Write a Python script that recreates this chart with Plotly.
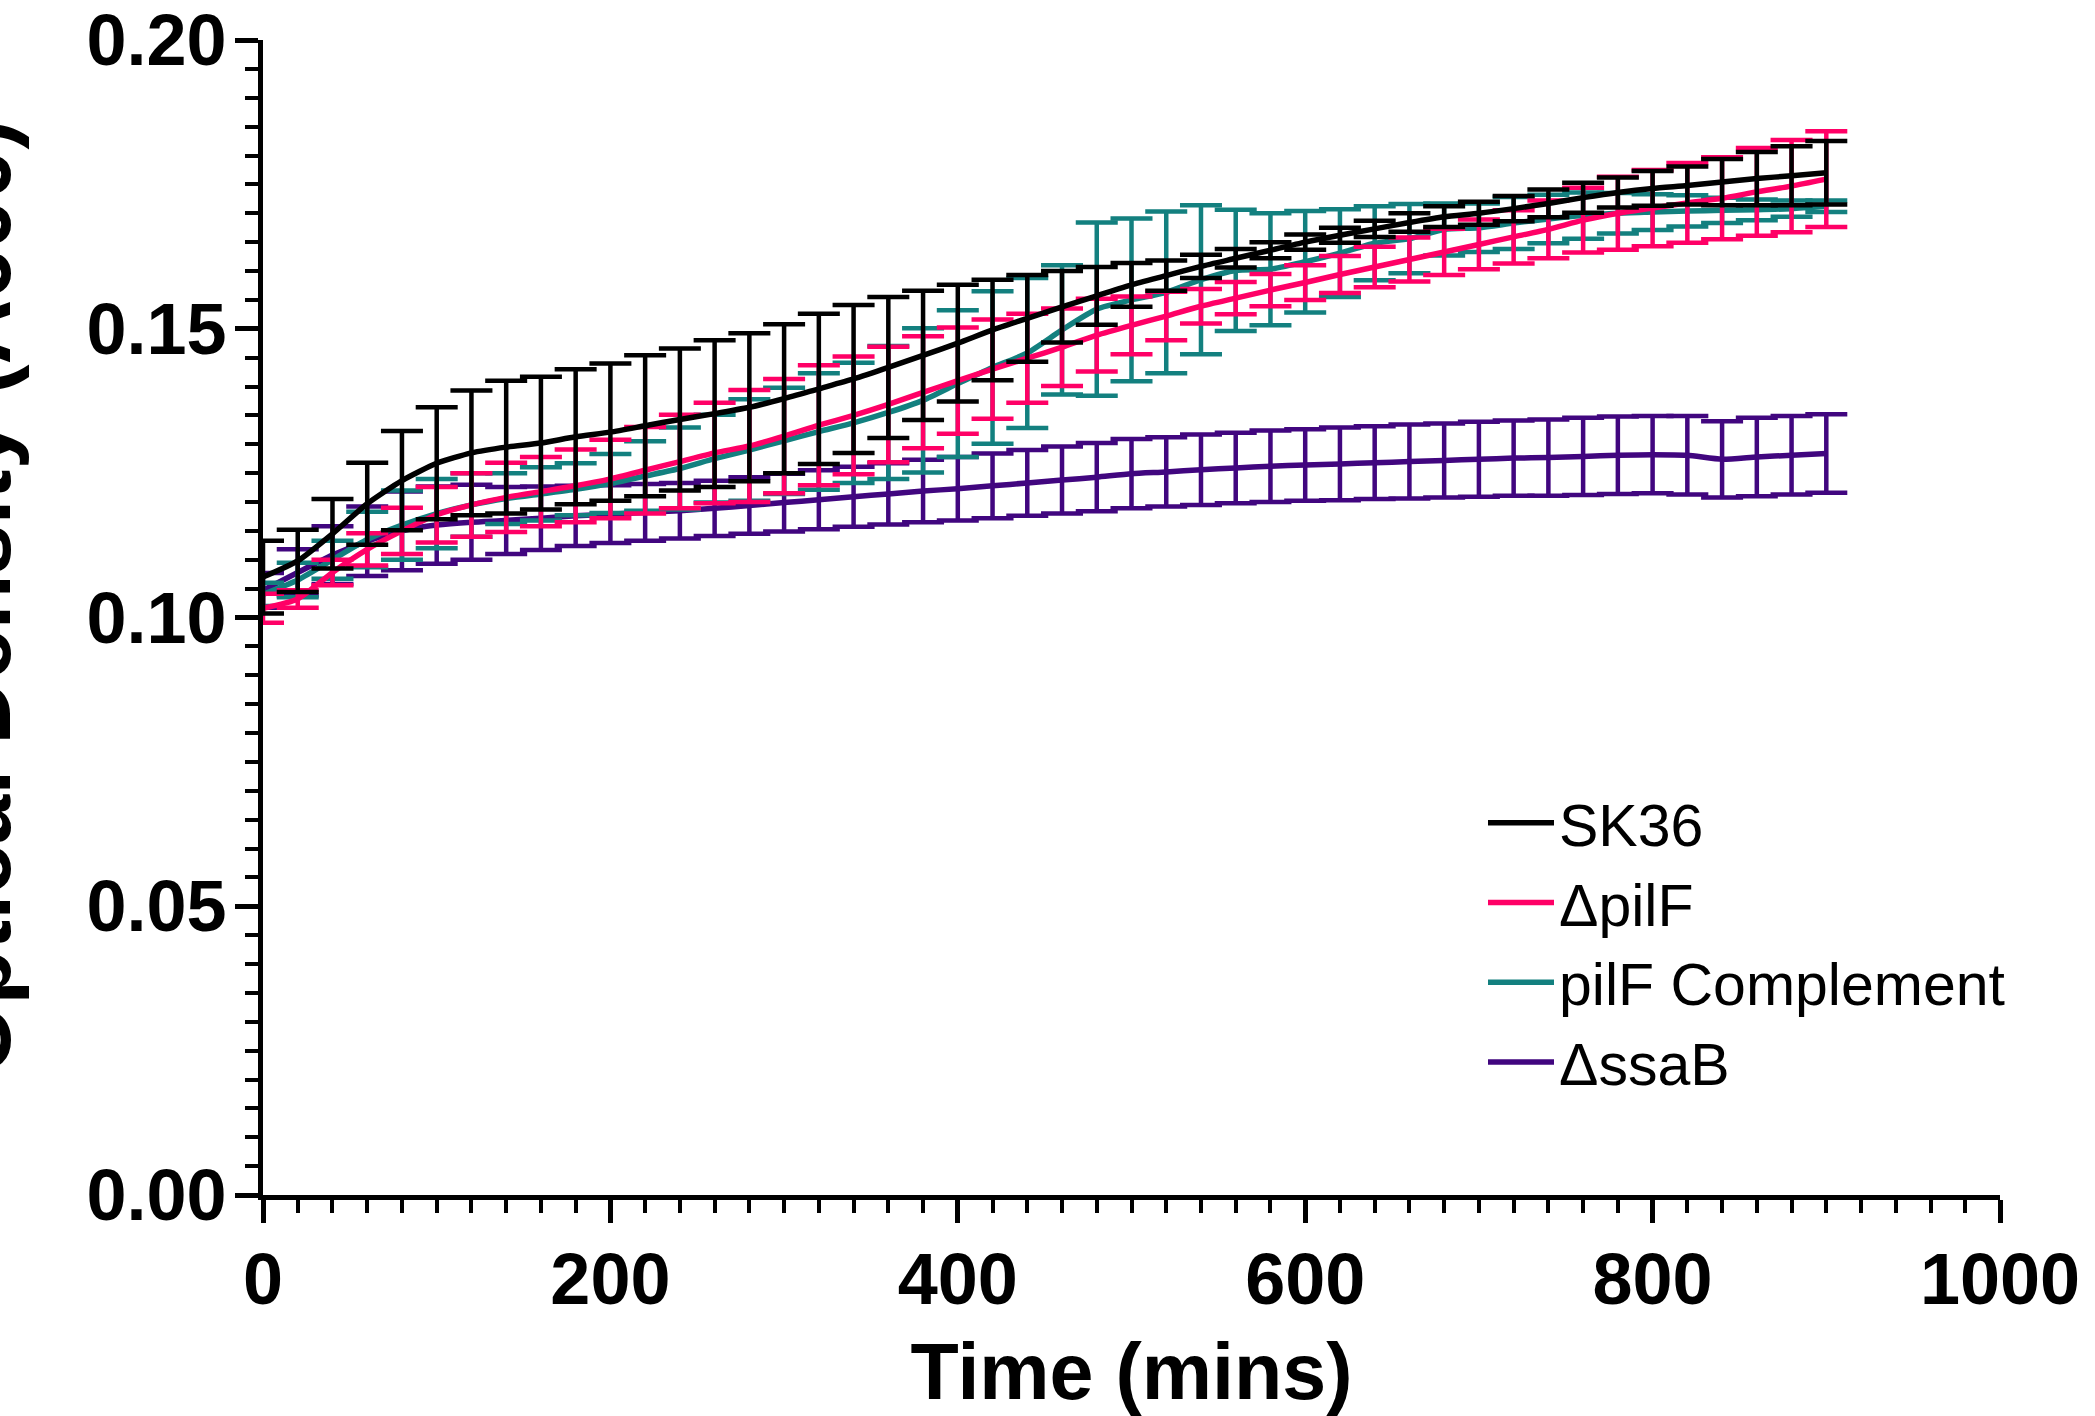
import plotly.graph_objects as go

time_min = [0, 20, 40, 60, 80, 100, 120, 140, 160, 180, 200, 220, 240, 260, 280, 300,
            320, 340, 360, 380, 400, 420, 440, 460, 480, 500, 520, 540, 560, 580, 600,
            620, 640, 660, 680, 700, 720, 740, 760, 780, 800, 820, 840, 860, 880, 900]

sk36_mean = [0.1070, 0.1098, 0.1145, 0.1197, 0.1237, 0.1267, 0.1285, 0.1295, 0.1302, 0.1313,
             0.1321, 0.1332, 0.1343, 0.1353, 0.1364, 0.1379, 0.1396, 0.1413, 0.1433, 0.1454,
             0.1475, 0.1498, 0.1518, 0.1538, 0.1557, 0.1576, 0.1592, 0.1608, 0.1622, 0.1636,
             0.1650, 0.1662, 0.1673, 0.1684, 0.1694, 0.1700, 0.1708, 0.1717, 0.1727, 0.1736,
             0.1743, 0.1748, 0.1754, 0.1760, 0.1765, 0.1770]
sk36_err = [0.0063, 0.0054, 0.0060, 0.0071, 0.0086, 0.0097, 0.0108, 0.0115, 0.0115, 0.0117,
            0.0119, 0.0122, 0.0123, 0.0127, 0.0128, 0.0129, 0.0130, 0.0128, 0.0122, 0.0112,
            0.0101, 0.0087, 0.0075, 0.0062, 0.0050, 0.0038, 0.0026, 0.0020, 0.0016, 0.0014,
            0.0013, 0.0013, 0.0014, 0.0016, 0.0018, 0.0020, 0.0022, 0.0024, 0.0026, 0.0026,
            0.0030, 0.0033, 0.0040, 0.0046, 0.0051, 0.0055]

pilf_mean = [0.1016, 0.1032, 0.1078, 0.1118, 0.1150, 0.1178, 0.1195, 0.1208, 0.1218, 0.1228,
             0.1240, 0.1255, 0.1270, 0.1285, 0.1297, 0.1314, 0.1333, 0.1350, 0.1369, 0.1390,
             0.1410, 0.1430, 0.1449, 0.1468, 0.1489, 0.1506, 0.1522, 0.1539, 0.1553, 0.1567,
             0.1580, 0.1594, 0.1607, 0.1620, 0.1633, 0.1646, 0.1659, 0.1672, 0.1688, 0.1700,
             0.1709, 0.1718, 0.1726, 0.1737, 0.1747, 0.1759]
pilf_err = [0.0025, 0.0015, 0.0022, 0.0028, 0.0040, 0.0048, 0.0055, 0.0060, 0.0060, 0.0063,
            0.0068, 0.0075, 0.0081, 0.0087, 0.0097, 0.0099, 0.0104, 0.0102, 0.0100, 0.0097,
            0.0092, 0.0086, 0.0077, 0.0067, 0.0063, 0.0050, 0.0042, 0.0030, 0.0028, 0.0028,
            0.0030, 0.0032, 0.0035, 0.0038, 0.0040, 0.0043, 0.0046, 0.0050, 0.0056, 0.0063,
            0.0066, 0.0069, 0.0071, 0.0076, 0.0080, 0.0083]

comp_mean = [0.1040, 0.1065, 0.1100, 0.1135, 0.1160, 0.1180, 0.1195, 0.1206, 0.1214, 0.1222,
             0.1232, 0.1245, 0.1258, 0.1275, 0.1290, 0.1306, 0.1322, 0.1337, 0.1355, 0.1376,
             0.1405, 0.1433, 0.1458, 0.1498, 0.1534, 0.1550, 0.1563, 0.1585, 0.1601, 0.1603,
             0.1616, 0.1631, 0.1648, 0.1656, 0.1672, 0.1675, 0.1683, 0.1690, 0.1696, 0.1700,
             0.1702, 0.1704, 0.1705, 0.1706, 0.1708, 0.1712]
comp_err = [0.0020, 0.0030, 0.0033, 0.0048, 0.0060, 0.0060, 0.0055, 0.0044, 0.0046, 0.0045,
            0.0051, 0.0060, 0.0071, 0.0076, 0.0088, 0.0092, 0.0101, 0.0104, 0.0115, 0.0125,
            0.0127, 0.0132, 0.0130, 0.0112, 0.0150, 0.0141, 0.0140, 0.0129, 0.0105, 0.0097,
            0.0088, 0.0076, 0.0064, 0.0060, 0.0045, 0.0042, 0.0045, 0.0042, 0.0040, 0.0035,
            0.0031, 0.0027, 0.0022, 0.0018, 0.0014, 0.0010]

ssab_mean = [0.1047, 0.1078, 0.1108, 0.1132, 0.1150, 0.1160, 0.1165, 0.1168, 0.1172, 0.1176,
             0.1179, 0.1182, 0.1185, 0.1189, 0.1194, 0.1199, 0.1204, 0.1209, 0.1214, 0.1219,
             0.1223, 0.1228, 0.1233, 0.1238, 0.1243, 0.1249, 0.1252, 0.1256, 0.1259, 0.1262,
             0.1264, 0.1266, 0.1268, 0.1270, 0.1272, 0.1274, 0.1276, 0.1277, 0.1279, 0.1281,
             0.1282, 0.1281, 0.1274, 0.1278, 0.1281, 0.1284]
ssab_err = [0.0030, 0.0040, 0.0050, 0.0060, 0.0068, 0.0067, 0.0065, 0.0058, 0.0055, 0.0052,
            0.0050, 0.0049, 0.0048, 0.0048, 0.0049, 0.0050, 0.0051, 0.0052, 0.0053, 0.0054,
            0.0055, 0.0056, 0.0057, 0.0058, 0.0059, 0.0060, 0.0060, 0.0061, 0.0061, 0.0062,
            0.0062, 0.0063, 0.0063, 0.0064, 0.0064, 0.0065, 0.0065, 0.0066, 0.0067, 0.0067,
            0.0067, 0.0068, 0.0066, 0.0068, 0.0068, 0.0068]

series_names = ["ΔssaB", "pilF Complement", "ΔpilF", "SK36"]
series_means = [ssab_mean, comp_mean, pilf_mean, sk36_mean]
series_errs = [ssab_err, comp_err, pilf_err, sk36_err]
series_colors = ["#41067F", "#13807F", "#FF0066", "#000000"]

FONT = "Liberation Sans, Arial, sans-serif"

fig = go.Figure()
for name, m, e, c in zip(series_names, series_means, series_errs, series_colors):
    fig.add_trace(go.Scatter(
        x=time_min, y=m, name=name, mode="lines",
        line=dict(color=c, width=5.5, shape="spline", smoothing=0.6),
        error_y=dict(type="data", array=e, visible=True, color=c, thickness=4.5, width=21),
        cliponaxis=False,
    ))

fig.update_layout(
    template="none",
    width=2095, height=1416,
    margin=dict(l=263, r=95, t=40, b=221, autoexpand=False),
    paper_bgcolor="white", plot_bgcolor="white",
    font=dict(family=FONT, color="black"),
    showlegend=True,
    legend=dict(
        traceorder="reversed",
        x=(1483 - 263) / 1737, xanchor="left",
        y=(1195 - 778) / 1155, yanchor="top",
        font=dict(family=FONT, size=59, color="black"),
        bgcolor="rgba(0,0,0,0)", borderwidth=0,
        itemwidth=66,
    ),
)

fig.update_xaxes(
    range=[0, 1000], tick0=0, dtick=200, tickformat="d",
    showline=True, linecolor="black", linewidth=5,
    ticks="outside", ticklen=23, tickwidth=5, tickcolor="black",
    minor=dict(dtick=20, tick0=0, ticks="outside", ticklen=13, tickwidth=4, tickcolor="black"),
    showgrid=False, zeroline=False, automargin=False,
    ticklabelstandoff=-5,
    tickfont=dict(family=FONT, size=72, color="black", weight="bold"),
    title=dict(text="Time (mins)", standoff=27,
               font=dict(family=FONT, size=79, color="black", weight="bold")),
)
fig.update_yaxes(
    range=[0, 0.2], tick0=0, dtick=0.05, tickformat=".2f",
    showline=True, linecolor="black", linewidth=5,
    ticks="outside", ticklen=23, tickwidth=5, tickcolor="black",
    minor=dict(dtick=0.005, tick0=0, ticks="outside", ticklen=13, tickwidth=4, tickcolor="black"),
    showgrid=False, zeroline=False, automargin=False,
    ticklabelstandoff=-6,
    tickfont=dict(family=FONT, size=72, color="black", weight="bold"),
)

fig.add_annotation(
    text="Optical Density (A600)", textangle=-90,
    xref="paper", yref="paper",
    x=(31 - 263) / 1737, xanchor="right",
    y=0.518, yanchor="middle",
    showarrow=False,
    font=dict(family=FONT, size=90, color="black", weight="bold"),
)

fig.write_html("out.html", config={"displayModeBar": False},
               post_script="document.body.style.margin='0';")
